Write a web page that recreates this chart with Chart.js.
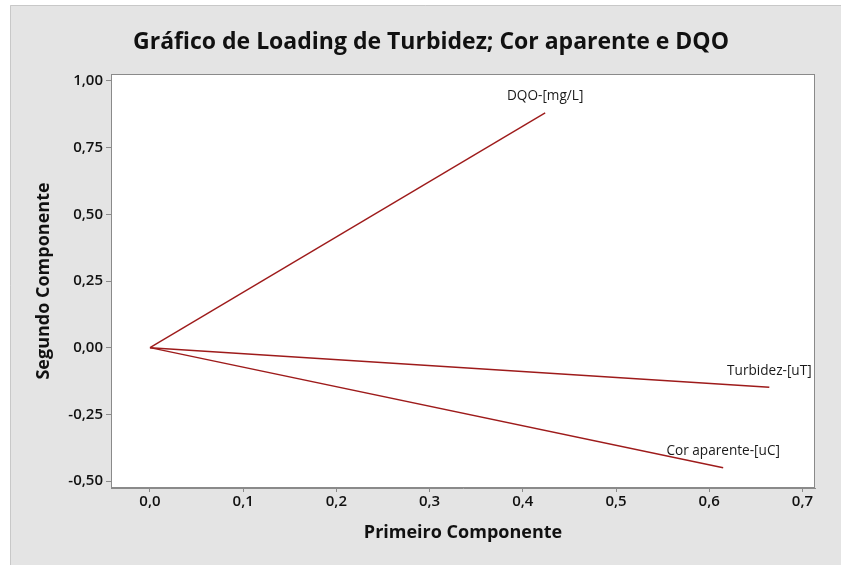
<!DOCTYPE html>
<html>
<head>
<meta charset="utf-8">
<script src="https://cdn.jsdelivr.net/npm/chart.js@4"></script>
<style>
  html, body { margin: 0; padding: 0; background: #fff; }
  #wrap { position: absolute; left: 0; top: 0; width: 841px; height: 565px; }
</style>
</head>
<body>
<div id="wrap"><canvas id="c" width="841" height="565"></canvas></div>
<script>
// ---- data ----
const variables = ['DQO-[mg/L]', 'Turbidez-[uT]', 'Cor aparente-[uC]'];
const primeiroComponente = [0.424, 0.6645, 0.615];
const segundoComponente = [0.880, -0.1485, -0.450];
const xTickValues = [0.0, 0.1, 0.2, 0.3, 0.4, 0.5, 0.6, 0.7];
const yTickValues = [-0.50, -0.25, 0.00, 0.25, 0.50, 0.75, 1.00];
const chartTitle = 'Gráfico de Loading de Turbidez; Cor aparente e DQO';
const xTitle = 'Primeiro Componente';
const yTitle = 'Segundo Componente';

const FONT = "'Open Sans', 'Noto Sans', sans-serif";
const LINE_COLOR = '#9e1b1b';
const AXIS_COLOR = '#8a8a8a';

const datasets = variables.map((name, i) => ({
  label: name,
  data: [{x: 0, y: 0}, {x: primeiroComponente[i], y: segundoComponente[i]}],
  borderColor: LINE_COLOR,
  borderWidth: 1.4,
  pointRadius: 0,
  showLine: true,
  fill: false,
  tension: 0
}));

const panelPlugin = {
  id: 'panel',
  beforeDraw(chart) {
    const ctx = chart.ctx;
    ctx.save();
    ctx.fillStyle = '#ffffff';
    ctx.fillRect(0, 0, chart.width, chart.height);
    ctx.fillStyle = '#e4e4e4';
    ctx.fillRect(10, 5, chart.width - 10, chart.height - 5);
    ctx.strokeStyle = '#c8c8c8';
    ctx.lineWidth = 1;
    ctx.beginPath();
    ctx.moveTo(10.5, chart.height);
    ctx.lineTo(10.5, 5.5);
    ctx.lineTo(chart.width, 5.5);
    ctx.stroke();
    const a = chart.chartArea;
    ctx.fillStyle = '#ffffff';
    ctx.fillRect(a.left, a.top, a.right - a.left, a.bottom - a.top);
    ctx.restore();
  },
  afterDatasetsDraw(chart) {
    const ctx = chart.ctx;
    const a = chart.chartArea;
    ctx.save();
    ctx.strokeStyle = AXIS_COLOR;
    ctx.lineWidth = 1;
    ctx.strokeRect(Math.round(a.left) + 0.5, Math.round(a.top) + 0.5,
                   Math.round(a.right - a.left) - 1, Math.round(a.bottom - a.top) - 1);
    // loading labels
    const xs = chart.scales.x, ys = chart.scales.y;
    ctx.fillStyle = '#1a1a1a';
    ctx.font = "13.6px " + FONT;
    ctx.textAlign = 'center';
    ctx.textBaseline = 'middle';
    variables.forEach((name, i) => {
      const px = xs.getPixelForValue(primeiroComponente[i]);
      const py = ys.getPixelForValue(segundoComponente[i]);
      ctx.fillText(name, px, py - 16.5);
    });
    ctx.restore();
  }
};

const fmt = (d) => (v) => v.toFixed(d).replace('.', ',');

new Chart(document.getElementById('c'), {
  type: 'scatter',
  data: { datasets },
  plugins: [panelPlugin],
  options: {
    responsive: false,
    animation: false,
    devicePixelRatio: 1,
    layout: { padding: { left: 21, right: 0, top: 0, bottom: 0 } },
    plugins: {
      legend: { display: false },
      tooltip: { enabled: false },
      title: {
        display: true,
        text: chartTitle,
        color: '#111',
        font: { family: FONT, size: 23, weight: 'bold', lineHeight: 1.2 },
        padding: { top: 28.2, bottom: 18.2 }
      }
    },
    scales: {
      x: {
        type: 'linear',
        min: -0.0418,
        max: 0.7135,
        afterBuildTicks: (s) => { s.ticks = xTickValues.map(v => ({ value: v })); },
        afterFit: (s) => { s.height = 77; },
        ticks: {
          callback: fmt(1),
          color: '#111',
          font: { family: FONT, size: 15, weight: '600' },
          padding: 1,
          maxRotation: 0,
          autoSkip: false
        },
        grid: { drawOnChartArea: false, drawTicks: true, tickLength: 4, color: AXIS_COLOR },
        border: { display: true, color: AXIS_COLOR },
        title: {
          display: true,
          text: xTitle,
          color: '#111',
          font: { family: FONT, size: 18, weight: 'bold', lineHeight: 1.2 },
          padding: { top: 0, bottom: 21.2 }
        }
      },
      y: {
        type: 'linear',
        min: -0.526,
        max: 1.026,
        afterBuildTicks: (s) => { s.ticks = yTickValues.map(v => ({ value: v })); },
        afterFit: (s) => { s.width = 90; },
        ticks: {
          callback: fmt(2),
          color: '#111',
          font: { family: FONT, size: 15, weight: '600' },
          padding: 3,
          autoSkip: false
        },
        grid: { drawOnChartArea: false, drawTicks: true, tickLength: 5, color: AXIS_COLOR },
        border: { display: true, color: AXIS_COLOR },
        title: {
          display: true,
          text: yTitle,
          color: '#111',
          font: { family: FONT, size: 18, weight: 'bold', lineHeight: 1.2 },
          padding: { top: 12.2, bottom: 0 }
        }
      },
      yRight: {
        type: 'linear',
        position: 'right',
        display: true,
        afterFit: (s) => { s.width = 26; },
        ticks: { display: false },
        grid: { display: false, drawTicks: false },
        border: { display: false }
      }
    }
  }
});
</script>
</body>
</html>
